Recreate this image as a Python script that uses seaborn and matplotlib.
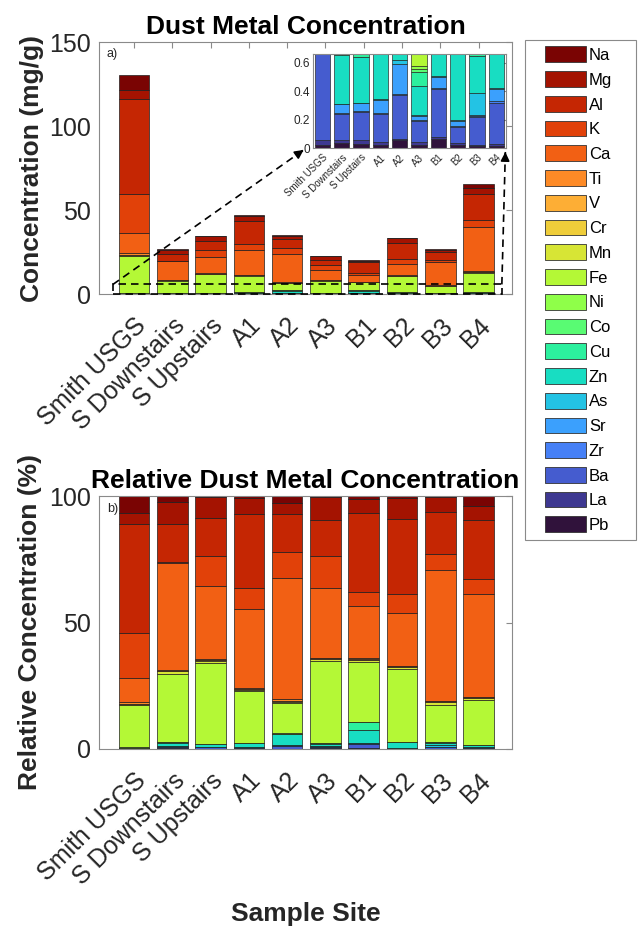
import numpy as np
import pandas as pd
import matplotlib
matplotlib.use("Agg")
import matplotlib.pyplot as plt
import seaborn as sns
from matplotlib.patches import Patch, Rectangle, FancyArrowPatch
from matplotlib.lines import Line2D

# ---------------- data (mg/g) ----------------
sites = ["Smith USGS", "S Downstairs", "S Upstairs", "A1", "A2", "A3",
         "B1", "B2", "B3", "B4"]
# legend order, top of stack first
elements = ["Na", "Mg", "Al", "K", "Ca", "Ti", "V", "Cr", "Mn", "Fe",
            "Ni", "Co", "Cu", "Zn", "As", "Sr", "Zr", "Ba", "La", "Pb"]

Na = [9.0, 0.58, 0.17, 0.42, 1.02, 0.11, 0.26, 0.30, 0.10, 2.49]
Mg = [5.5, 2.38, 2.85, 2.92, 1.52, 2.03, 1.13, 2.78, 1.61, 3.73]
Al = [56.2, 3.91, 5.11, 13.7, 5.33, 3.26, 6.27, 9.88, 4.38, 15.33]
K = [23.2, 0.13, 4.15, 4.05, 3.60, 2.81, 1.13, 2.58, 1.69, 3.93]
Ca = [12.2, 11.2, 9.95, 14.65, 16.98, 6.23, 4.16, 6.93, 13.68, 26.66]
Ti = [1.1, 0.08, 0.10, 0.09, 0.18, 0.07, 0.08, 0.10, 0.08, 0.13]
V = [0.13, 0.026, 0.034, 0.05, 0.07, 0.02, 0.02, 0.03, 0.03, 0.07]
Cr = [0.13, 0.05, 0.07, 0.09, 0.10, 0.05, 0.04, 0.07, 0.08, 0.13]
Mn = [0.40, 0.24, 0.34, 0.24, 0.21, 0.16, 0.16, 0.23, 0.26, 0.52]
Fe = [21.7, 7.2, 10.98, 9.7, 4.2, 7.3, 4.74, 9.7, 3.91, 11.66]
Ni = [0.01, 0.01, 0.01, 0.01, 0.04, 0.02, 0.02, 0.02, 0.02, 0.03]
Co = [0.005, 0.005, 0.005, 0.005, 0.02, 0.02, 0.02, 0.01, 0.01, 0.01]
Cu = [0.01, 0.03, 0.04, 0.05, 0.06, 0.10, 0.64, 0.03, 0.04, 0.04]
Zn = [0.03, 0.34, 0.32, 0.70, 1.45, 0.20, 1.00, 0.68, 0.255, 0.50]
As = [0.005, 0.005, 0.005, 0.005, 0.03, 0.005, 0.005, 0.005, 0.16, 0.005]
Sr = [0.02, 0.059, 0.052, 0.093, 0.21, 0.028, 0.076, 0.032, 0.005, 0.085]
Zr = [0.005, 0.011, 0.009, 0.007, 0.007, 0.01, 0.009, 0.008, 0.005, 0.01]
Ba = [0.64, 0.18, 0.196, 0.194, 0.305, 0.143, 0.338, 0.115, 0.197, 0.29]
La = [0.035, 0.023, 0.028, 0.021, 0.01, 0.024, 0.014, 0.014, 0.007, 0.016]
Pb = [0.022, 0.035, 0.03, 0.023, 0.058, 0.023, 0.063, 0.021, 0.016, 0.014]

values = {"Na": Na, "Mg": Mg, "Al": Al, "K": K, "Ca": Ca, "Ti": Ti, "V": V,
          "Cr": Cr, "Mn": Mn, "Fe": Fe, "Ni": Ni, "Co": Co, "Cu": Cu, "Zn": Zn,
          "As": As, "Sr": Sr, "Zr": Zr, "Ba": Ba, "La": La, "Pb": Pb}

pos = np.arange(1, len(sites) + 1)
rows = [(p, el, v) for el in elements for p, v in zip(pos, values[el])]
df = pd.DataFrame(rows, columns=["pos", "metal", "value"])
df["pct"] = df["value"] / df.groupby("pos")["value"].transform("sum") * 100

# ---------------- style ----------------
sns.set_theme(style="white")
plt.rcParams["font.family"] = ["Liberation Sans", "DejaVu Sans"]

cmap = plt.get_cmap("turbo")
n = len(elements)
palette = {el: cmap(1 - i / (n - 1)) for i, el in enumerate(elements)}

SPINE = "#8a8a8a"
TXT = "#262626"
EDGE = "#1e1e1e"

fig = plt.figure(figsize=(6.38, 9.27), dpi=100)
W, H = 638.0, 927.0


def fax(l, t, r, b):
    return fig.add_axes([l / W, 1 - b / H, (r - l) / W, (b - t) / H])


ax1 = fax(99, 42, 512, 294)
ax2 = fax(99, 496, 512, 749)
axin = fax(312.7, 54, 506, 148.3)


def stacked(ax, col, lw=0.5):
    sns.histplot(data=df, x="pos", weights=col, hue="metal", hue_order=elements,
                 multiple="stack", discrete=True, shrink=0.8, palette=palette,
                 alpha=1, edgecolor=EDGE, linewidth=lw, legend=False, ax=ax)


def style(ax, labelsize):
    for s in ax.spines.values():
        s.set_color(SPINE)
        s.set_linewidth(0.8)
        s.set_visible(True)
    ax.tick_params(axis="both", direction="in", top=True, right=True,
                   length=4, width=0.8, color=SPINE, labelcolor=TXT,
                   labelsize=labelsize)
    ax.grid(False)


stacked(ax1, "value")
stacked(ax2, "pct")
stacked(axin, "value", lw=0.45)

xlim_main = (0.086, 10.875)
for ax in (ax1, ax2):
    style(ax, 18)
    ax.set_xlim(*xlim_main)
    ax.set_xticks(pos)
    ax.set_xticklabels(sites, rotation=45, ha="right", va="top",
                       rotation_mode="anchor")
    ax.tick_params(axis="x", pad=14)
    ax.tick_params(axis="y", pad=6)

ax1.set_ylim(0, 150)
ax1.set_yticks([0, 50, 100, 150])
ax2.set_ylim(0, 100)
ax2.set_yticks([0, 50, 100])

ax1.set_xlabel("")
ax1.set_ylabel("Concentration (mg/g)", fontsize=19, fontweight="bold", color=TXT)
ax2.set_ylabel("Relative Concentration (%)", fontsize=19, fontweight="bold", color=TXT)
ax1.yaxis.set_label_coords(-0.133, 0.5)
ax2.yaxis.set_label_coords(-0.137, 0.5)
ax2.set_xlabel("Sample Site", fontsize=19, fontweight="bold", color=TXT)
ax2.xaxis.set_label_coords(0.5, -0.605)

ax1.set_title("Dust Metal Concentration", fontsize=19, fontweight="bold",
              color="black", pad=6)
ax2.set_title("Relative Dust Metal Concentration", fontsize=19,
              fontweight="bold", color="black", pad=6)

ax1.text(0.017, 0.975, "a)", transform=ax1.transAxes, fontsize=9, va="top",
         ha="left", color=TXT)
ax2.text(0.019, 0.972, "b)", transform=ax2.transAxes, fontsize=9, va="top",
         ha="left", color=TXT)

# inset
style(axin, 8.5)
axin.set_xlim(0.5, 10.5)
axin.set_ylim(0, 0.66)
axin.set_yticks([0, 0.2, 0.4, 0.6])
axin.set_yticklabels(["0", "0.2", "0.4", "0.6"])
axin.set_xticks(pos)
axin.set_xticklabels(sites, rotation=45, ha="right", va="top",
                     rotation_mode="anchor", fontsize=7)
axin.tick_params(axis="x", pad=3, length=2.5)
axin.tick_params(axis="y", pad=2, length=2.5)
axin.set_xlabel("")
axin.set_ylabel("")

# dashed zoom box and arrows
rect_x0, rect_x1, rect_y1 = 0.45, 10.61, 5.7
dash = (0, (4.5, 3))
ax1.add_patch(Rectangle((rect_x0, 0), rect_x1 - rect_x0, rect_y1, fill=False,
                        ls=dash, lw=1.2, ec="black", zorder=6, clip_on=False))

to_fig = fig.transFigure.inverted()


def connect(p_data, p_inset):
    a = to_fig.transform(ax1.transData.transform(p_data))
    b = to_fig.transform(axin.transAxes.transform(p_inset))
    fig.add_artist(Line2D([a[0], b[0]], [a[1], b[1]], transform=fig.transFigure,
                          color="black", lw=1.2, ls=dash, zorder=10))
    v = b - a
    start = b - v * 0.06
    fig.add_artist(FancyArrowPatch(posA=start, posB=b, transform=fig.transFigure,
                                   arrowstyle="-|>", mutation_scale=13,
                                   color="black", lw=1.2, zorder=11))


connect((rect_x0, rect_y1), (-0.035, 0.0))
connect((rect_x1, rect_y1), (0.997, -0.01))

# legend (frame drawn separately so padding can differ per side)
handles = [Patch(facecolor=palette[el], edgecolor="#333333", linewidth=0.6)
           for el in elements]
leg = fig.legend(handles, elements, loc="upper left",
                 bbox_to_anchor=(544.7 / W, 1 - 46.5 / H), frameon=False,
                 fontsize=12, handlelength=2.5, handleheight=1.08,
                 labelspacing=0.49, handletextpad=0.15, borderpad=0,
                 borderaxespad=0)
for t in leg.get_texts():
    t.set_color("black")

fig.canvas.draw()
bb = leg.get_window_extent()
leg_bottom_px = H - bb.y0 + 7
fig.add_artist(Rectangle((524.7 / W, 1 - leg_bottom_px / H),
                         (636 - 524.7) / W, (leg_bottom_px - 40) / H,
                         transform=fig.transFigure, fill=False, ec=SPINE,
                         lw=0.8))

fig.savefig("out.png", dpi=100, facecolor="white")
